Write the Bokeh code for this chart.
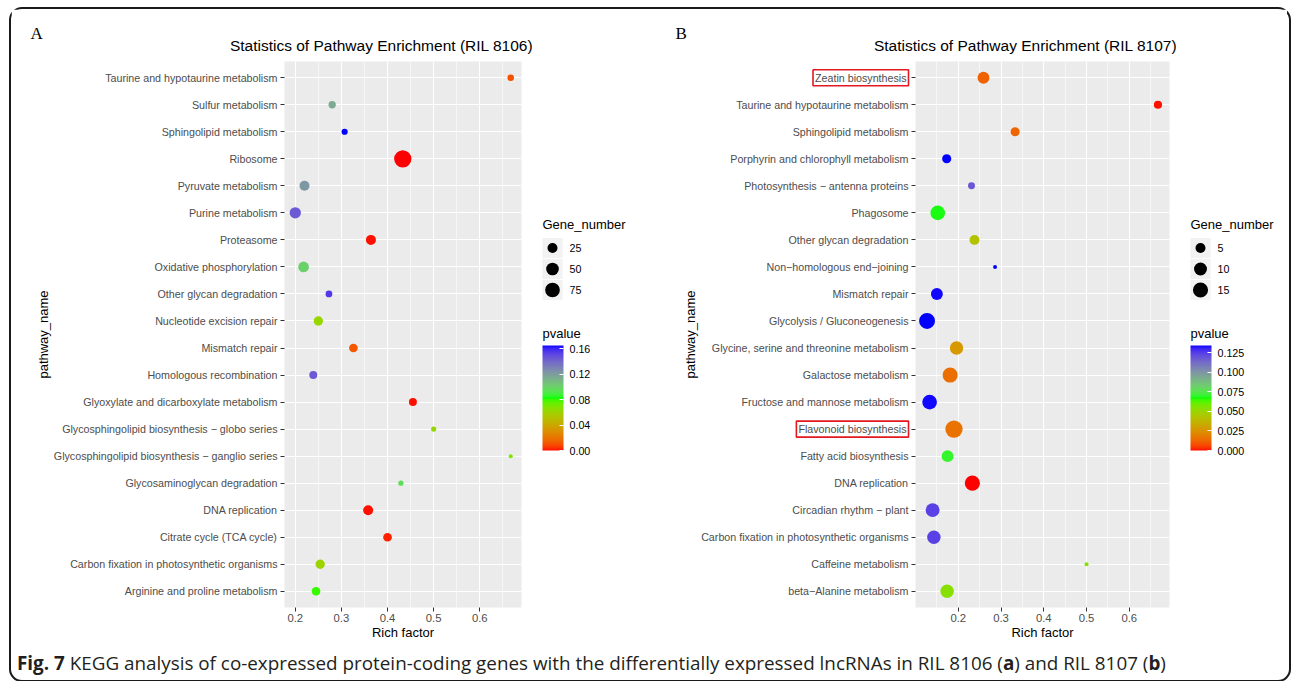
import numpy as np
from bokeh.plotting import figure
from bokeh.models import (Range1d, FixedTicker, LinearColorMapper, ColorBar, Label,
                          ColumnDataSource, Div, PrintfTickFormatter)
from bokeh.layouts import row, column
from bokeh.transform import transform
from bokeh.core.properties import value
from bokeh.embed import file_html
from bokeh.resources import INLINE

# ---------------- data: panel A (RIL 8106) ----------------
pathways_A = [
    "Taurine and hypotaurine metabolism", "Sulfur metabolism", "Sphingolipid metabolism",
    "Ribosome", "Pyruvate metabolism", "Purine metabolism", "Proteasome",
    "Oxidative phosphorylation", "Other glycan degradation", "Nucleotide excision repair",
    "Mismatch repair", "Homologous recombination", "Glyoxylate and dicarboxylate metabolism",
    "Glycosphingolipid biosynthesis \u2212 globo series",
    "Glycosphingolipid biosynthesis \u2212 ganglio series",
    "Glycosaminoglycan degradation", "DNA replication", "Citrate cycle (TCA cycle)",
    "Carbon fixation in photosynthetic organisms", "Arginine and proline metabolism",
]
rich_A = [0.667, 0.280, 0.307, 0.433, 0.220, 0.200, 0.364, 0.218, 0.273, 0.250,
          0.326, 0.239, 0.455, 0.500, 0.667, 0.429, 0.358, 0.400, 0.254, 0.245]
genes_A = [6, 9, 5, 115, 25, 36, 25, 31, 7, 20, 16, 12, 12, 3, 2, 3, 25, 16, 20, 16]
pvalue_A = [0.010, 0.115, 0.165, 0.000, 0.122, 0.145, 0.001, 0.100, 0.155, 0.062,
            0.012, 0.145, 0.001, 0.062, 0.070, 0.095, 0.001, 0.002, 0.060, 0.080]
size_legend_A = [25, 50, 75]
pticks_A = [0.00, 0.04, 0.08, 0.12, 0.16]
xticks_A = [0.2, 0.3, 0.4, 0.5, 0.6]
xminor_A = [0.25, 0.35, 0.45, 0.55, 0.65]

# ---------------- data: panel B (RIL 8107) ----------------
pathways_B = [
    "Zeatin biosynthesis", "Taurine and hypotaurine metabolism", "Sphingolipid metabolism",
    "Porphyrin and chlorophyll metabolism", "Photosynthesis \u2212 antenna proteins",
    "Phagosome", "Other glycan degradation", "Non\u2212homologous end\u2212joining",
    "Mismatch repair", "Glycolysis / Gluconeogenesis",
    "Glycine, serine and threonine metabolism", "Galactose metabolism",
    "Fructose and mannose metabolism", "Flavonoid biosynthesis", "Fatty acid biosynthesis",
    "DNA replication", "Circadian rhythm \u2212 plant",
    "Carbon fixation in photosynthetic organisms", "Caffeine metabolism",
    "beta\u2212Alanine metabolism",
]
rich_B = [0.259, 0.667, 0.333, 0.173, 0.231, 0.152, 0.238, 0.286, 0.150, 0.127,
          0.196, 0.181, 0.133, 0.190, 0.175, 0.233, 0.140, 0.143, 0.500, 0.174]
genes_B = [8, 3, 4, 4, 2, 14, 5, 1, 8, 17, 11, 15, 14, 21, 8, 15, 12, 11, 1, 11]
pvalue_B = [0.012, 0.001, 0.013, 0.134, 0.118, 0.068, 0.042, 0.134, 0.133, 0.134,
            0.027, 0.015, 0.133, 0.016, 0.070, 0.000, 0.124, 0.124, 0.054, 0.054]
size_legend_B = [5, 10, 15]
pticks_B = [0.000, 0.025, 0.050, 0.075, 0.100, 0.125]
xticks_B = [0.2, 0.3, 0.4, 0.5, 0.6]
xminor_B = [0.15, 0.25, 0.35, 0.45, 0.55, 0.65]
boxed_B = ["Zeatin biosynthesis", "Flavonoid biosynthesis"]

caption_bold = "Fig. 7"
caption_text = ("KEGG analysis of co-expressed protein-coding genes with the differentially "
                "expressed lncRNAs in RIL 8106 (")

FONT = "Liberation Sans"

# ---------------- colour scale: red -> green -> blue interpolated in CIELAB ----------------
_M = np.array([[0.4124564, 0.3575761, 0.1804375],
               [0.2126729, 0.7151522, 0.0721750],
               [0.0193339, 0.1191920, 0.9503041]])
_W = np.array([0.95047, 1.0, 1.08883])


def _hex_rgb(h):
    h = h.lstrip("#")
    return np.array([int(h[i:i + 2], 16) for i in (0, 2, 4)]) / 255.0


def _rgb_lab(c):
    lin = np.where(c <= 0.04045, c / 12.92, ((c + 0.055) / 1.055) ** 2.4)
    xyz = (_M @ lin) / _W
    d = 6 / 29
    f = np.where(xyz > d ** 3, np.cbrt(xyz), xyz / (3 * d * d) + 4 / 29)
    return np.array([116 * f[1] - 16, 500 * (f[0] - f[1]), 200 * (f[1] - f[2])])


def _lab_hex(lab):
    L, a, b = lab
    fy = (L + 16) / 116
    f = np.array([fy + a / 500, fy, fy - b / 200])
    d = 6 / 29
    xyz = np.where(f > d, f ** 3, 3 * d * d * (f - 4 / 29)) * _W
    lin = np.clip(np.linalg.solve(_M, xyz), 0, 1)
    c = np.where(lin <= 0.0031308, 12.92 * lin, 1.055 * lin ** (1 / 2.4) - 0.055)
    c = np.clip(np.round(c * 255), 0, 255).astype(int)
    return "#%02x%02x%02x" % tuple(c)


def lab_palette(stops, n=256):
    labs = [_rgb_lab(_hex_rgb(s)) for s in stops]
    out = []
    for t in np.linspace(0, 1, n):
        pos = t * (len(labs) - 1)
        i = min(int(pos), len(labs) - 2)
        u = pos - i
        out.append(_lab_hex(labs[i] * (1 - u) + labs[i + 1] * u))
    return out


PALETTE = lab_palette(["#FF0000", "#00FF00", "#0000FF"])


def size_scale(n, nmin, nmax, dmin=4.0, dmax=17.3):
    n = np.asarray(n, dtype=float)
    return dmin + (dmax - dmin) * np.sqrt((n - nmin) / (nmax - nmin))


FRAME_H = 546
TOP = 52
BOTTOM = 38
FRAME_TOP_PAGE = 61  # page y of the plotting frames' top edge
CB_BOTTOM, CB_H, CB_W = 450, 105, 21


def make_panel(names, rich, genes, pvals, letter, title, min_left, frame_w, min_right,
               title_dx, letter_dx, xticks, xminor, boxed,
               leg_vals, pticks, pfmt, leg_left, leg_w, leg_x0):
    N = len(names)
    yv = [N - i for i in range(N)]
    xmin, xmax = min(rich), max(rich)
    span = xmax - xmin
    xr = Range1d(xmin - 0.05 * span, xmax + 0.05 * span)
    yr = Range1d(0.4, N + 0.6)
    p = figure(x_range=xr, y_range=yr, frame_width=frame_w, frame_height=FRAME_H,
               min_border_left=min_left, min_border_right=min_right,
               min_border_top=TOP, min_border_bottom=BOTTOM,
               toolbar_location=None, output_backend="svg",
               background_fill_color="#EBEBEB", border_fill_color="white",
               outline_line_color=None)
    mapper = LinearColorMapper(palette=PALETTE, low=min(pvals), high=max(pvals))
    src = ColumnDataSource(dict(x=rich, y=yv, p=pvals,
                                s=size_scale(genes, min(genes), max(genes))))
    p.scatter(x="x", y="y", size="s", source=src, fill_color=transform("p", mapper),
              line_color=None)

    # axes
    p.xaxis.ticker = FixedTicker(ticks=xticks, minor_ticks=xminor)
    p.yaxis.ticker = FixedTicker(ticks=yv)
    over = {}
    for y, nm in zip(yv, names):
        over[y] = "" if nm in boxed else nm
    p.yaxis.major_label_overrides = over
    p.xaxis.axis_label = "Rich factor"
    p.yaxis.axis_label = "pathway_name"
    for ax in (p.xaxis, p.yaxis):
        ax.axis_line_color = None
        ax.major_tick_in = 0
        ax.major_tick_out = 4
        ax.major_tick_line_color = "#333333"
        ax.minor_tick_in = 0
        ax.minor_tick_out = 0
        ax.major_label_text_font = FONT
        ax.major_label_text_color = "#4D4D4D"
        ax.axis_label_text_font = FONT
        ax.axis_label_text_font_size = "13px"
        ax.axis_label_text_font_style = "normal"
        ax.axis_label_text_color = "black"
    p.xaxis.major_label_text_font_size = "11.3px"
    p.yaxis.major_label_text_font_size = "10.7px"
    p.xaxis.major_label_standoff = 2
    p.yaxis.major_label_standoff = 3
    p.xaxis.axis_label_standoff = 0
    p.yaxis.axis_label_standoff = 0

    p.xgrid.grid_line_color = "white"
    p.xgrid.grid_line_width = 1.1
    p.xgrid.minor_grid_line_color = "white"
    p.xgrid.minor_grid_line_width = 0.55
    p.ygrid.grid_line_color = "white"
    p.ygrid.grid_line_width = 1.1

    # title (top side panel)
    p.add_layout(Label(x=xr.start, y=yr.end, x_offset=title_dx, y_offset=16, text=title,
                       text_align="center", text_baseline="middle", text_font=FONT,
                       text_font_size="15.5px", text_color="black"), "above")
    # boxed (highlighted) pathway labels, positioned at their category rows
    for y, nm in zip(yv, names):
        if nm in boxed:
            p.add_layout(Label(x=xr.start, y=y, x_offset=-7, text=nm, text_align="right",
                               text_baseline="middle", text_font=FONT,
                               text_font_size="10.7px", text_color="#4D4D4D",
                               border_line_color="#E3191F", border_line_width=1.6,
                               padding=2), "above")
    # panel letter (narrow right side panel, drawn at the top-left)
    p.add_layout(Label(x=xr.start, y=yr.end, x_offset=letter_dx, y_offset=28, text=letter,
                       text_align="left", text_baseline="middle",
                       text_font="Liberation Serif", text_font_size="17px",
                       text_color="black"), "right")

    # ---------- legend column (frame aligned with the plot frame; page coordinates) ----------
    lg = figure(frame_width=leg_w, frame_height=FRAME_H,
                x_range=Range1d(leg_left, leg_left + leg_w),
                y_range=Range1d(FRAME_TOP_PAGE + FRAME_H, FRAME_TOP_PAGE),
                min_border_left=0, min_border_right=0, min_border_top=TOP,
                min_border_bottom=BOTTOM, toolbar_location=None, output_backend="svg",
                x_axis_location=None, y_axis_location=None, outline_line_color=None)
    lg.grid.visible = False
    key_y = [247.5, 268.5, 289.5]
    lg.text(x=[leg_x0, leg_x0], y=[224, 333], text=["Gene_number", "pvalue"],
            text_font=value(FONT), text_font_size="13px", text_color="black",
            text_baseline="middle", text_align="left")
    lg.rect(x=[leg_x0 + 10] * 3, y=key_y, width=20, height=20, fill_color="#F2F2F2",
            line_color=None)
    lg.scatter(x=[leg_x0 + 10] * 3, y=key_y,
               size=size_scale(leg_vals, min(genes), max(genes)), color="black",
               line_color=None)
    lg.text(x=[leg_x0 + 27] * 3, y=key_y, text=[str(v) for v in leg_vals],
            text_font=value(FONT), text_font_size="10.7px", text_color="black",
            text_baseline="middle", text_align="left")
    cb = ColorBar(color_mapper=mapper, ticker=FixedTicker(ticks=pticks),
                  formatter=PrintfTickFormatter(format=pfmt), width=CB_W, height=CB_H,
                  location=(leg_x0 - leg_left, FRAME_TOP_PAGE + FRAME_H - CB_BOTTOM),
                  padding=0, label_standoff=6, major_tick_in=4, major_tick_out=0,
                  major_tick_line_color="white", minor_tick_line_color=None,
                  bar_line_color=None, border_line_color=None,
                  background_fill_color=None, major_label_text_font=FONT,
                  major_label_text_font_size="10.7px", major_label_text_color="black")
    lg.add_layout(cb)
    # white tick marks on the left edge of the colour bar (ggplot draws them on both sides)
    lo, hi = min(pvals), max(pvals)
    ty = [CB_BOTTOM - (t - lo) / (hi - lo) * CB_H for t in pticks]
    lg.segment(x0=[leg_x0] * len(ty), x1=[leg_x0 + 4] * len(ty), y0=ty, y1=ty,
               line_color="white", line_width=1)
    return p, lg


pA, lA = make_panel(pathways_A, rich_A, genes_A, pvalue_A, "A",
                    "Statistics of Pathway Enrichment (RIL 8106)",
                    273, 237, 20, 97, -254, xticks_A, xminor_A, [],
                    size_legend_A, pticks_A, "%.2f", 541, 119, 542)
pB, lB = make_panel(pathways_B, rich_B, genes_B, pvalue_B, "B",
                    "Statistics of Pathway Enrichment (RIL 8107)",
                    255, 254, 17, 110, -240, xticks_B, xminor_B, boxed_B,
                    size_legend_B, pticks_B, "%.3f", 1186, 101, 1190)

cap = Div(text=('<div style="font-family:\'Open Sans\';font-size:18.85px;line-height:20px;'
                'color:#231f20;white-space:nowrap;padding:3px 0 0 1px;">'
                '<b>' + caption_bold + '</b> ' + caption_text + '<b>a</b>) and RIL 8107 (<b>b</b>)</div>'),
          width=1276, height=25)

root = column(row(pA, lA, pB, lB), cap, margin=(7, 0, 0, 9), width=1282,
              sizing_mode="fixed",
              styles={"border": "2px solid #1a1a1a", "border-radius": "13px"})

open("out.html", "w").write(file_html(root, INLINE))
